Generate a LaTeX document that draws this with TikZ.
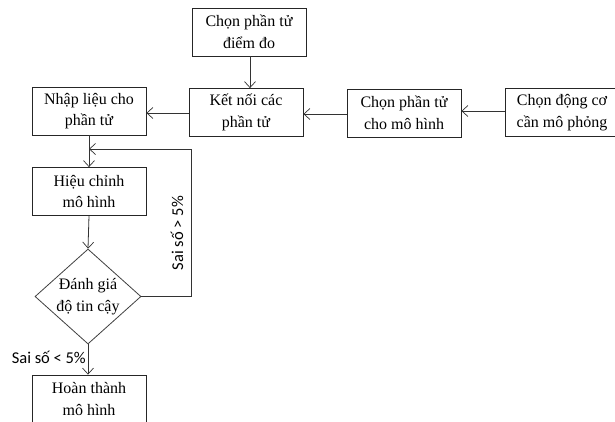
\documentclass[tikz,border=0pt]{standalone}
\usepackage{fontspec}
\setmainfont{Liberation Serif}
\newfontfamily\lblfont{Carlito}
\usetikzlibrary{arrows.meta,shapes.geometric}
\begin{document}
\begin{tikzpicture}[x=1pt,y=-1pt,
  box/.style={draw=black!85,line width=0.8pt,minimum width=114pt,minimum height=48pt,align=center,inner sep=0pt,font=\fontsize{16}{21.5}\selectfont},
  dia/.style={draw=black!75,line width=0.8pt,diamond,minimum width=106pt,minimum height=95pt,aspect=1.12,align=center,inner sep=0pt,font=\fontsize{16}{21.5}\selectfont},
  conn/.style={draw=black!80,line width=0.8pt,-{Straight Barb[length=6pt,width=11pt,line width=0.7pt]}},
  lbl/.style={font=\lblfont\fontsize{16.5}{19}\selectfont,inner sep=0pt}]
\useasboundingbox (0,0) rectangle (615,421);
\fill[white] (0,0) rectangle (615,421);
\node[box] (diem) at (249,32) {Chọn phần tử\\điểm đo};
\node[box] (nhap) at (89,111) {Nhập liệu cho\\phần tử};
\node[box] (ketnoi) at (246,112.5) {Kết nối các\\phần tử};
\node[box] (chonpt) at (404,113) {Chọn phần tử\\cho mô hình};
\node[box] (dongco) at (562,112.5) {Chọn động cơ\\cần mô phỏng};
\node[box] (hieu) at (89,191.5) {Hiệu chỉnh\\mô hình};
\node[dia] (danh) at (88,296.5) {Đánh giá\\độ tin cậy};
\node[box] (hoan) at (89,399) {Hoàn thành\\mô hình};
\coordinate (fbR) at (191,149);
\coordinate (fbL) at (89,149);
\draw[conn] (diem.south -| 250,0) -- (ketnoi.north -| 250,0);
\draw[conn] (dongco.west |- 0,111) -- (chonpt.east |- 0,111);
\draw[conn] (chonpt.west |- 0,114) -- (ketnoi.east |- 0,114);
\draw[conn] (ketnoi.west |- 0,113) -- (nhap.east |- 0,113);
\draw[conn] (nhap.south) -- (hieu.north);
\draw[conn] (hieu.south -| 89,0) -- (danh.north);
\draw[conn] (danh.south) -- (hoan.north -| danh.south);
\draw[conn] (danh.east) -| (fbR) -- (fbL);
\node[lbl,rotate=90] (gt) at (177,233) {Sai số > 5\%};
\node[lbl,anchor=east] (lt) at (86,357) {Sai số < 5\%};
\end{tikzpicture}
\end{document}
